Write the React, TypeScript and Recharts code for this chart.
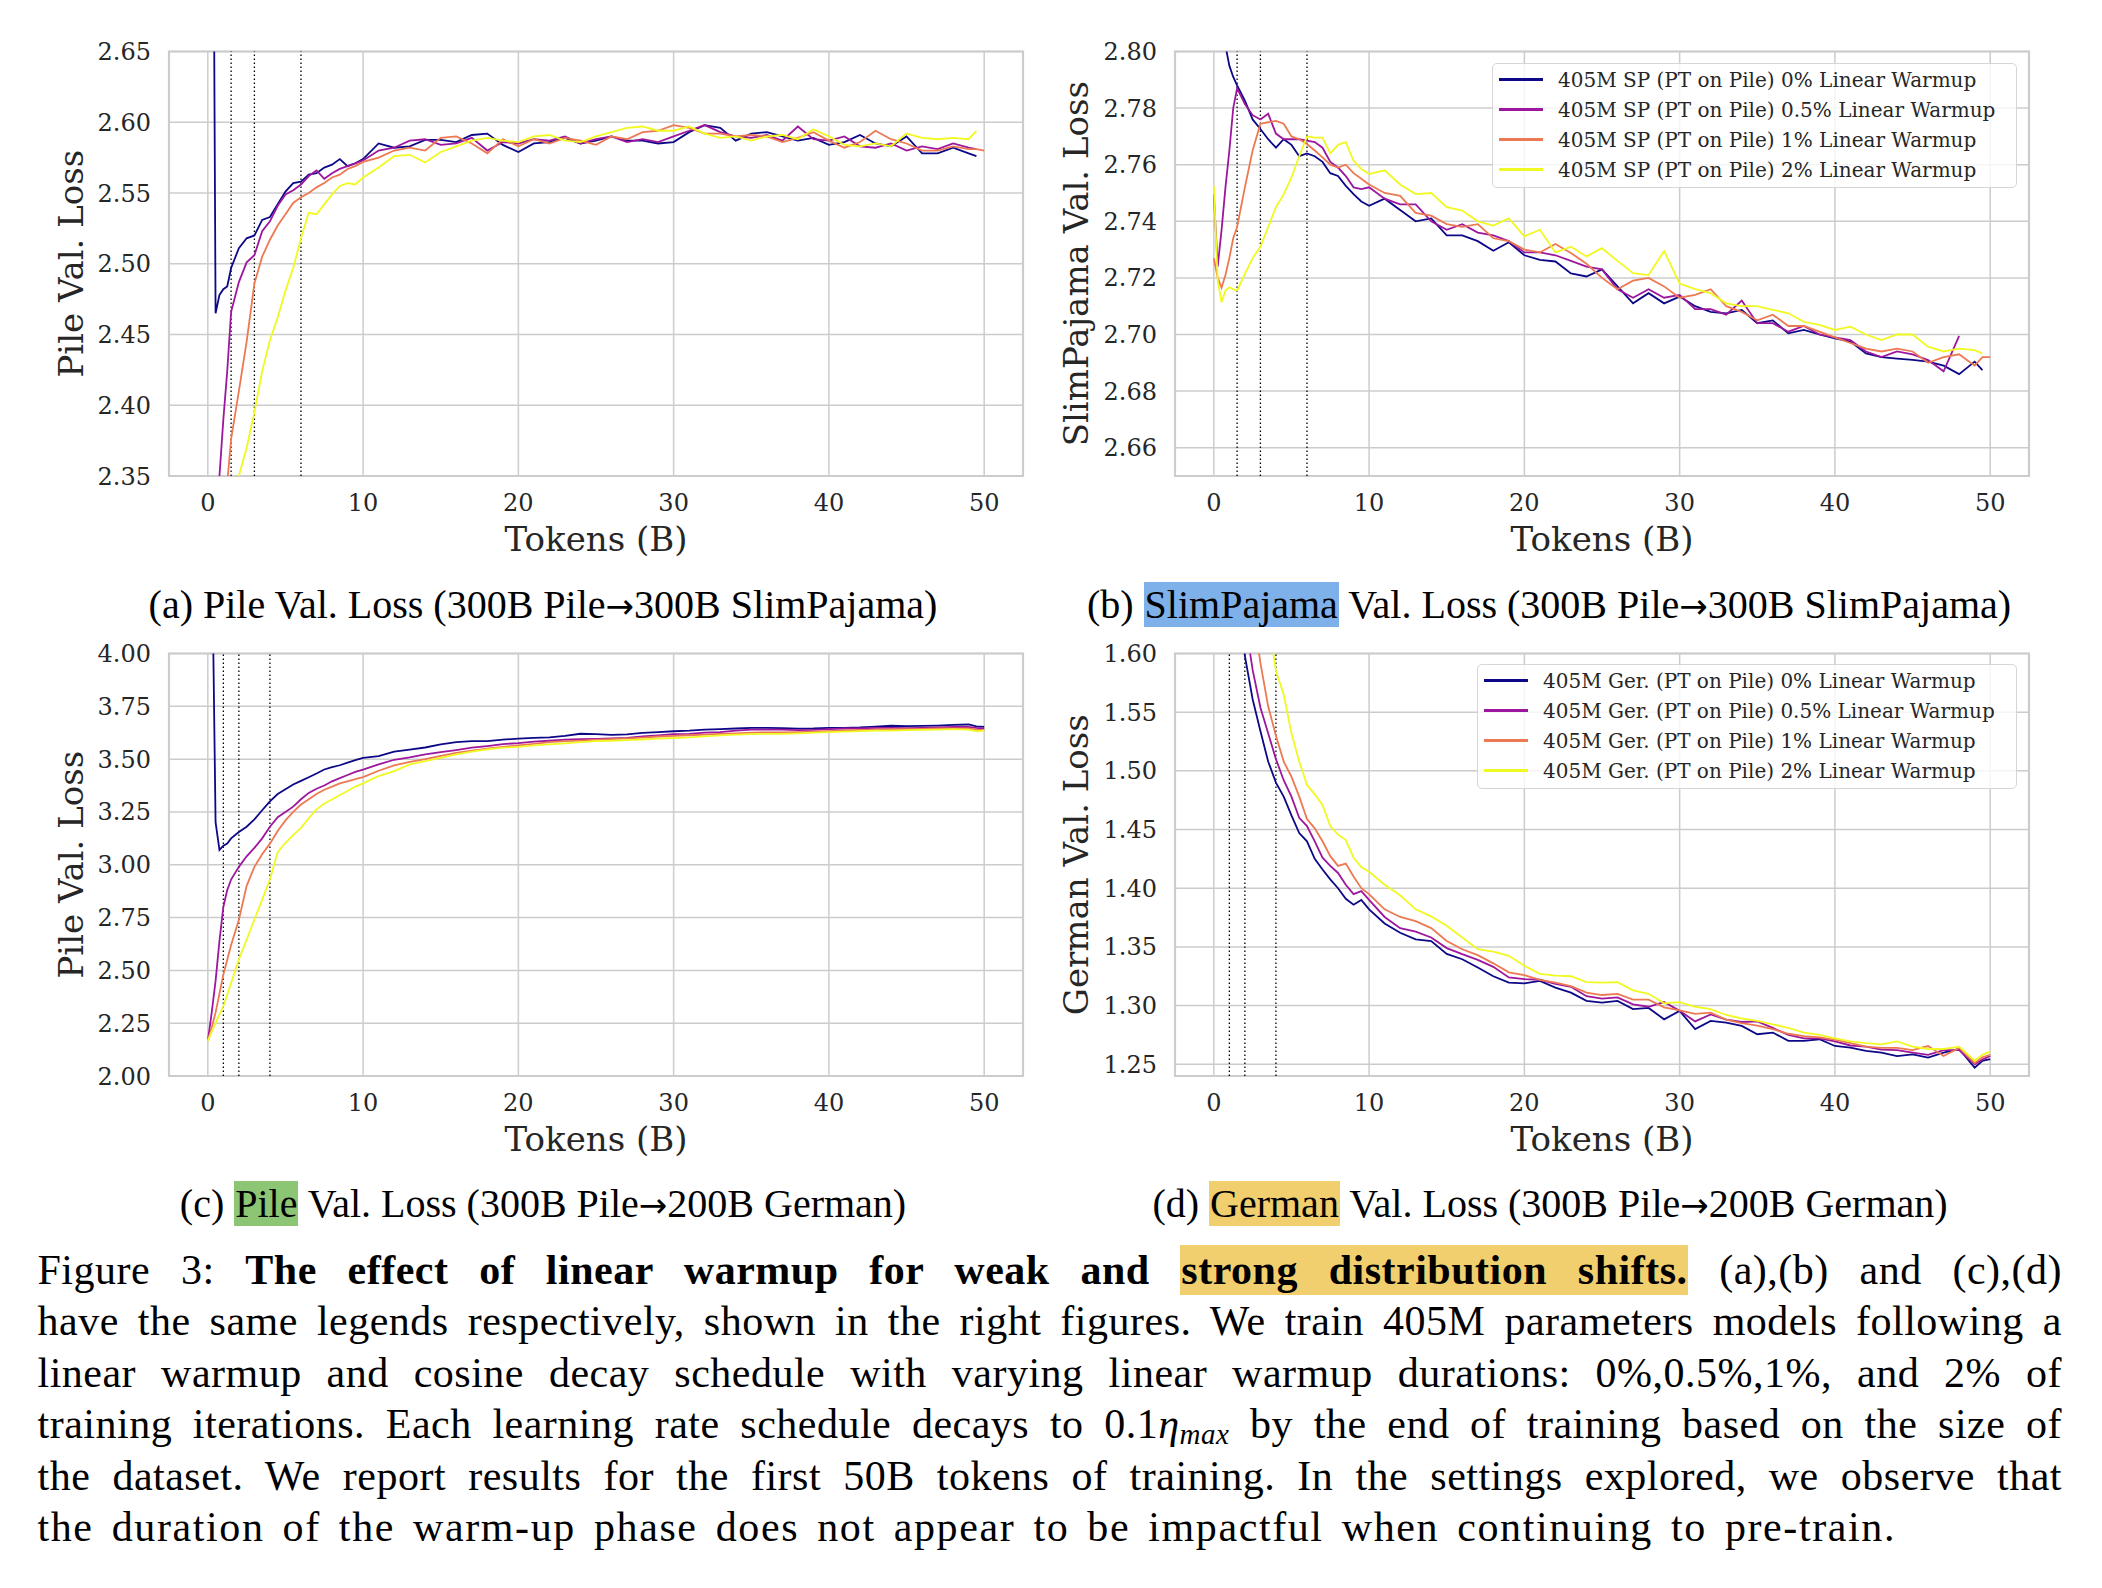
import React from 'react';
import { LineChart, Line, XAxis, YAxis, CartesianGrid, ReferenceLine, ReferenceArea, Legend } from 'recharts';

// shared token axis (B)
const tokens = [
  0, 0.25, 0.5, 0.75, 1, 1.25, 1.5, 2, 2.5, 3, 3.5, 4, 4.5, 5, 5.5, 6, 6.5, 7, 7.5, 8, 8.5, 9, 9.5, 10,
  11, 12, 13, 14, 15, 16, 17, 18, 19, 20,
  21, 22, 23, 24, 25, 26, 27, 28, 29, 30,
  31, 32, 33, 34, 35, 36, 37, 38, 39, 40,
  41, 42, 43, 44, 45, 46, 47, 48, 49,
  49.5, 50,
];

// (a) Pile val loss, 300B Pile -> 300B SlimPajama
const pileSP_w0 = [
  null, 3.0, 2.465, 2.478, 2.482, 2.484, 2.497, 2.511, 2.518, 2.52, 2.531, 2.533, 2.542, 2.551, 2.557, 2.558, 2.563, 2.564, 2.568, 2.57, 2.574, 2.569, 2.571, 2.574,
  2.585, 2.582, 2.583, 2.5875, 2.5875, 2.586, 2.591, 2.592, 2.584, 2.579,
  2.585, 2.586, 2.589, 2.585, 2.587, 2.59, 2.587, 2.587, 2.585, 2.586,
  2.593, 2.598, 2.596, 2.587, 2.592, 2.593, 2.59, 2.587, 2.589, 2.584,
  2.586, 2.591, 2.585, 2.583, 2.59, 2.578, 2.578, 2.582, 2.578,
  2.576, null,
];
const pileSP_w05 = [
  2.2, 2.24, 2.3, 2.35, 2.39, 2.424, 2.466, 2.487, 2.501, 2.506, 2.523, 2.53, 2.541, 2.549, 2.552, 2.556, 2.562, 2.566, 2.56, 2.564, 2.567, 2.569, 2.571, 2.573,
  2.58, 2.582, 2.587, 2.588, 2.584, 2.585, 2.589, 2.58, 2.586, 2.585,
  2.588, 2.587, 2.59, 2.585, 2.588, 2.59, 2.586, 2.588, 2.586, 2.59,
  2.594, 2.598, 2.593, 2.59, 2.589, 2.591, 2.587, 2.597, 2.588, 2.587,
  2.59, 2.583, 2.582, 2.585, 2.58, 2.583, 2.581, 2.585, 2.582,
  2.581, null,
];
const pileSP_w1 = [
  2.17, 2.2, 2.23, 2.27, 2.31, 2.345, 2.376, 2.41, 2.445, 2.486, 2.505, 2.517, 2.527, 2.535, 2.543, 2.547, 2.55, 2.554, 2.557, 2.561, 2.563, 2.567, 2.569, 2.572,
  2.575, 2.58, 2.582, 2.58, 2.589, 2.59, 2.585, 2.578, 2.588, 2.583,
  2.588, 2.585, 2.589, 2.587, 2.584, 2.59, 2.588, 2.593, 2.594, 2.598,
  2.596, 2.592, 2.592, 2.59, 2.591, 2.59, 2.586, 2.589, 2.593, 2.587,
  2.582, 2.586, 2.594, 2.588, 2.585, 2.58, 2.58, 2.583, 2.581,
  2.581, 2.58,
];
const pileSP_w2 = [
  2.15, 2.17, 2.19, 2.21, 2.24, 2.27, 2.29, 2.35, 2.37, 2.395, 2.424, 2.446, 2.462, 2.481, 2.497, 2.518, 2.536, 2.535, 2.542, 2.549, 2.555, 2.557, 2.556, 2.561,
  2.568, 2.576, 2.577, 2.5715, 2.579, 2.583, 2.587, 2.589, 2.587, 2.586,
  2.59, 2.591, 2.587, 2.586, 2.59, 2.593, 2.596, 2.597, 2.594, 2.594,
  2.597, 2.592, 2.589, 2.59, 2.587, 2.59, 2.591, 2.588, 2.595, 2.59,
  2.584, 2.583, 2.585, 2.583, 2.592, 2.589, 2.588, 2.589, 2.588,
  2.594, null,
];

// (b) SlimPajama val loss
const spSP_w0 = [
  null, 2.84, 2.815, 2.802, 2.795, 2.791, 2.788, 2.7826, 2.776, 2.7726, 2.769, 2.766, 2.769, 2.767, 2.763, 2.764, 2.763, 2.761, 2.757, 2.756, 2.7525, 2.7496, 2.747, 2.7455,
  2.748, 2.744, 2.74, 2.741, 2.735, 2.735, 2.733, 2.7296, 2.7326, 2.728,
  2.7264, 2.7258, 2.7216, 2.7205, 2.723, 2.717, 2.711, 2.7146, 2.711, 2.7134,
  2.71, 2.708, 2.7075, 2.7087, 2.704, 2.705, 2.7004, 2.7016, 2.7, 2.6986,
  2.6975, 2.6933, 2.692, 2.6915, 2.691, 2.6904, 2.689, 2.686, 2.6904,
  2.6874, null,
];
const spSP_w05 = [
  2.7496, 2.724, 2.737, 2.752, 2.765, 2.78, 2.787, 2.7814, 2.7775, 2.776, 2.778, 2.771, 2.769, 2.769, 2.769, 2.7685, 2.768, 2.766, 2.761, 2.759, 2.756, 2.752, 2.7514, 2.752,
  2.748, 2.746, 2.746, 2.74, 2.737, 2.739, 2.736, 2.735, 2.733, 2.729,
  2.729, 2.728, 2.726, 2.724, 2.723, 2.716, 2.713, 2.716, 2.713, 2.714,
  2.709, 2.709, 2.707, 2.712, 2.704, 2.704, 2.701, 2.703, 2.7, 2.699,
  2.698, 2.694, 2.692, 2.694, 2.693, 2.691, 2.687, 2.6995, null,
  null, null,
];
const spSP_w1 = [
  2.727, 2.72, 2.7165, 2.721, 2.727, 2.734, 2.738, 2.752, 2.765, 2.7745, 2.775, 2.7755, 2.7745, 2.77, 2.769, 2.7673, 2.765, 2.7626, 2.76, 2.759, 2.76, 2.757, 2.755, 2.753,
  2.75, 2.749, 2.743, 2.742, 2.739, 2.738, 2.739, 2.734, 2.733, 2.73,
  2.729, 2.732, 2.7288, 2.725, 2.72, 2.716, 2.719, 2.72, 2.717, 2.713,
  2.714, 2.716, 2.71, 2.708, 2.705, 2.707, 2.703, 2.703, 2.701, 2.699,
  2.697, 2.695, 2.694, 2.695, 2.694, 2.69, 2.692, 2.693, 2.689,
  2.692, 2.692,
];
const spSP_w2 = [
  2.7526, 2.719, 2.7114, 2.7155, 2.7167, 2.716, 2.7155, 2.7214, 2.727, 2.731, 2.738, 2.745, 2.7495, 2.7555, 2.763, 2.77, 2.7696, 2.7696, 2.764, 2.767, 2.768, 2.7614, 2.7585, 2.7567,
  2.758, 2.753, 2.7496, 2.75, 2.745, 2.7438, 2.74, 2.7385, 2.741, 2.7347,
  2.737, 2.729, 2.731, 2.7276, 2.7305, 2.726, 2.7217, 2.721, 2.7295, 2.718,
  2.716, 2.7146, 2.711, 2.71, 2.71, 2.7087, 2.7075, 2.7045, 2.7034, 2.7016,
  2.7028, 2.7, 2.698, 2.7, 2.7, 2.6957, 2.694, 2.695, 2.6945,
  2.6933, null,
];

// (c) Pile val loss, 300B Pile -> 200B German
const pileGer_w0 = [
  null, 4.6, 3.2, 3.07, 3.09, 3.1, 3.125, 3.155, 3.18, 3.215, 3.258, 3.3, 3.335, 3.357, 3.38, 3.397, 3.414, 3.432, 3.451, 3.462, 3.471, 3.483, 3.495, 3.506,
  3.514, 3.535, 3.545, 3.555, 3.57, 3.58, 3.585, 3.585, 3.592, 3.597,
  3.601, 3.603, 3.61, 3.62, 3.618, 3.615, 3.617, 3.624, 3.628, 3.632,
  3.635, 3.64, 3.642, 3.645, 3.648, 3.648, 3.647, 3.644, 3.645, 3.648,
  3.648, 3.65, 3.654, 3.658, 3.656, 3.657, 3.659, 3.662, 3.664,
  3.655, 3.653,
];
const pileGer_w05 = [
  2.166, 2.3, 2.45, 2.64, 2.8, 2.88, 2.93, 2.99, 3.04, 3.08, 3.125, 3.18, 3.225, 3.25, 3.275, 3.31, 3.34, 3.36, 3.375, 3.395, 3.41, 3.425, 3.44, 3.45,
  3.475, 3.497, 3.508, 3.522, 3.533, 3.543, 3.554, 3.562, 3.571, 3.576,
  3.583, 3.587, 3.592, 3.594, 3.596, 3.598, 3.6, 3.607, 3.612, 3.618,
  3.62, 3.625, 3.628, 3.635, 3.64, 3.64, 3.64, 3.637, 3.638, 3.642,
  3.645, 3.646, 3.648, 3.648, 3.647, 3.648, 3.65, 3.652, 3.653,
  3.648, 3.644,
];
const pileGer_w1 = [
  2.166, 2.23, 2.3, 2.39, 2.48, 2.55, 2.62, 2.74, 2.9, 2.99, 3.05, 3.1, 3.16, 3.21, 3.25, 3.285, 3.31, 3.335, 3.355, 3.37, 3.385, 3.395, 3.405, 3.415,
  3.445, 3.47, 3.487, 3.5, 3.515, 3.53, 3.54, 3.55, 3.558, 3.565,
  3.572, 3.58, 3.585, 3.588, 3.592, 3.595, 3.598, 3.602, 3.607, 3.61,
  3.613, 3.616, 3.62, 3.622, 3.625, 3.627, 3.627, 3.628, 3.63, 3.633,
  3.636, 3.638, 3.64, 3.642, 3.642, 3.643, 3.645, 3.646, 3.645,
  3.64, 3.637,
];
const pileGer_w2 = [
  2.166, 2.21, 2.25, 2.29, 2.33, 2.385, 2.44, 2.552, 2.645, 2.741, 2.835, 2.93, 3.06, 3.104, 3.14, 3.175, 3.22, 3.262, 3.29, 3.309, 3.33, 3.349, 3.37, 3.385,
  3.42, 3.443, 3.475, 3.49, 3.506, 3.522, 3.536, 3.546, 3.554, 3.558,
  3.565, 3.57, 3.575, 3.58, 3.585, 3.587, 3.59, 3.593, 3.597, 3.6,
  3.603, 3.608, 3.612, 3.616, 3.618, 3.62, 3.62, 3.622, 3.625, 3.628,
  3.63, 3.633, 3.635, 3.635, 3.637, 3.638, 3.64, 3.642, 3.64,
  3.632, 3.635,
];

// (d) German val loss
const gerGer_w0 = [
  null, 2.6, 2.2, 1.95, 1.82, 1.72, 1.65, 1.598, 1.561, 1.534, 1.508, 1.49, 1.478, 1.462, 1.447, 1.44, 1.425, 1.416, 1.4075, 1.4, 1.391, 1.386, 1.39, 1.382,
  1.37, 1.362, 1.3565, 1.355, 1.344, 1.3395, 1.3325, 1.325, 1.3195, 1.319,
  1.321, 1.3153, 1.311, 1.304, 1.3025, 1.304, 1.297, 1.298, 1.2883, 1.2954,
  1.28, 1.287, 1.2855, 1.2827, 1.2756, 1.277, 1.27, 1.27, 1.2713, 1.2656,
  1.2642, 1.2614, 1.26, 1.257, 1.2585, 1.2557, 1.26, 1.263, 1.247,
  1.253, 1.2543,
];
const gerGer_w05 = [
  null, 2.5, 2.2, 2.0, 1.88, 1.8, 1.73, 1.63, 1.586, 1.554, 1.532, 1.51, 1.492, 1.478, 1.46, 1.453, 1.44, 1.426, 1.419, 1.413, 1.403, 1.395, 1.3976, 1.39,
  1.3755, 1.366, 1.363, 1.358, 1.349, 1.3438, 1.339, 1.333, 1.324, 1.3225,
  1.322, 1.3185, 1.316, 1.308, 1.306, 1.307, 1.301, 1.299, 1.303, 1.2955,
  1.2865, 1.2925, 1.288, 1.286, 1.2865, 1.281, 1.275, 1.272, 1.272, 1.2695,
  1.266, 1.265, 1.2625, 1.262, 1.26, 1.258, 1.262, 1.262, 1.25,
  1.254, 1.257,
];
const gerGer_w1 = [
  null, 2.6, 2.35, 2.15, 2.0, 1.9, 1.82, 1.72, 1.64, 1.592, 1.555, 1.53, 1.508, 1.495, 1.478, 1.459, 1.451, 1.44, 1.4273, 1.419, 1.421, 1.41, 1.4, 1.395,
  1.382, 1.3755, 1.372, 1.366, 1.355, 1.348, 1.343, 1.336, 1.3283, 1.326,
  1.322, 1.3195, 1.3165, 1.311, 1.309, 1.31, 1.305, 1.305, 1.2985, 1.296,
  1.293, 1.294, 1.288, 1.285, 1.283, 1.28, 1.276, 1.274, 1.273, 1.271,
  1.268, 1.265, 1.264, 1.264, 1.262, 1.2655, 1.257, 1.264, 1.251,
  1.256, 1.258,
];
const gerGer_w2 = [
  null, 2.6, 2.3, 2.1, 2.0, 1.95, 1.9, 1.8, 1.74, 1.68, 1.63, 1.585, 1.565, 1.532, 1.508, 1.488, 1.48, 1.471, 1.453, 1.4457, 1.441, 1.426, 1.418, 1.414,
  1.403, 1.394, 1.382, 1.376, 1.368, 1.358, 1.348, 1.346, 1.3424, 1.334,
  1.327, 1.3255, 1.325, 1.32, 1.3195, 1.32, 1.313, 1.31, 1.302, 1.303,
  1.299, 1.297, 1.292, 1.289, 1.287, 1.284, 1.281, 1.277, 1.275, 1.272,
  1.2695, 1.268, 1.267, 1.2695, 1.265, 1.263, 1.263, 1.265, 1.253,
  1.258, 1.261,
];

const warmupLabels = ['0%', '0.5%', '1%', '2%'];
const xTicks = [0, 10, 20, 30, 40, 50];
const spWarmupEnds = [1.5, 3, 6]; // 300B run
const gerWarmupEnds = [1, 2, 4]; // 200B run

const COLORS = ['#0d0887', '#9c179e', '#ed7953', '#f0f921'];
const KEYS = ['w0', 'w05', 'w1', 'w2'];
const SERIF = '"DejaVu Serif", serif';
const TEX = '"Liberation Serif", serif';
const INK = '#262626';
const GRID = '#cccccc';

const buildRows = (series: (number | null)[][]) =>
  tokens.map((x, i) => ({ x, w0: series[0][i], w05: series[1][i], w1: series[2][i], w2: series[3][i] }));

const LegendBox = ({ prefix, width }: { prefix: string; width: number }) => (
  <div
    style={{
      position: 'relative',
      width,
      height: 125,
      boxSizing: 'border-box',
      border: '1.5px solid #d6d6d6',
      borderRadius: 5,
      background: 'rgba(255,255,255,0.8)',
      fontFamily: SERIF,
      fontSize: 20,
      color: INK,
    }}
  >
    {warmupLabels.map((w, i) => (
      <div
        key={w}
        style={{ position: 'absolute', left: 0, top: 1 + i * 30, height: 30, display: 'flex', alignItems: 'center', whiteSpace: 'nowrap' }}
      >
        <span style={{ display: 'inline-block', marginLeft: 6, width: 44, height: 3.5, background: COLORS[i] }} />
        <span style={{ marginLeft: 15 }}>{`${prefix} ${w} Linear Warmup`}</span>
      </div>
    ))}
  </div>
);

type PanelProps = {
  left: number;
  top: number;
  marginTop: number;
  rows: any[];
  yDomain: [number, number];
  yTicks: number[];
  yLabel: string;
  labelOffset: number;
  warmupEnds: number[];
  legend?: { prefix: string; left: number; top: number; width: number };
};

const Panel = ({ left, top, marginTop, rows, yDomain, yTicks, yLabel, labelOffset, warmupEnds, legend }: PanelProps) => (
  <div style={{ position: 'absolute', left, top }}>
    <LineChart width={1040} height={602} data={rows} margin={{ top: marginTop, right: 17, bottom: 0, left: 0 }}>
      <CartesianGrid stroke={GRID} strokeWidth={1.5} />
      <ReferenceArea
        x1={-2.5}
        x2={52.5}
        y1={yDomain[0]}
        y2={yDomain[1]}
        fill="none"
        stroke={GRID}
        strokeWidth={2.2}
        ifOverflow="visible"
      />
      <XAxis
        dataKey="x"
        type="number"
        domain={[-2.5, 52.5]}
        ticks={xTicks}
        allowDataOverflow
        tickLine={false}
        axisLine={false}
        tickMargin={12}
        height={126}
        tick={{ fontFamily: SERIF, fontSize: 24, fill: INK }}
        label={{ value: 'Tokens (B)', position: 'center', fontFamily: SERIF, fontSize: 34, fill: INK }}
      />
      <YAxis
        type="number"
        domain={yDomain}
        ticks={yTicks}
        allowDataOverflow
        tickLine={false}
        axisLine={false}
        tickMargin={12}
        width={169}
        tickFormatter={(v: number) => v.toFixed(2)}
        tick={{ fontFamily: SERIF, fontSize: 24, fill: INK }}
        label={{
          value: yLabel,
          angle: -90,
          position: 'insideLeft',
          offset: labelOffset,
          fontFamily: SERIF,
          fontSize: 34,
          fill: INK,
          style: { textAnchor: 'middle' },
        }}
      />
      {warmupEnds.map((w) => (
        <ReferenceLine key={w} x={w} stroke="#000" strokeWidth={1.3} strokeDasharray="1.5 2.5" />
      ))}
      {KEYS.map((k, i) => (
        <Line
          key={k}
          type="linear"
          dataKey={k}
          stroke={COLORS[i]}
          strokeWidth={1.8}
          dot={false}
          activeDot={false}
          isAnimationActive={false}
        />
      ))}
      {legend && (
        <Legend
          layout="vertical"
          align="center"
          verticalAlign="middle"
          wrapperStyle={{ left: legend.left, top: legend.top, width: legend.width }}
          content={() => <LegendBox prefix={legend.prefix} width={legend.width} />}
        />
      )}
    </LineChart>
  </div>
);

const subCap: React.CSSProperties = {
  position: 'absolute',
  width: 1000,
  height: 46,
  lineHeight: '46px',
  textAlign: 'center',
  fontFamily: TEX,
  fontSize: 40,
  color: '#000',
  whiteSpace: 'nowrap',
};
const capLine: React.CSSProperties = {
  height: 51.4,
  lineHeight: '51.4px',
  textAlign: 'justify',
  textAlignLast: 'justify',
  letterSpacing: 0.5,
};
const hl = (bg: string, pad = 0): React.CSSProperties => ({ background: bg, padding: `${pad}px 1px` });
const Arrow = () => <span style={{ fontFamily: '"DejaVu Sans", sans-serif', fontSize: 34 }}>→</span>;

export default function App() {
  return (
    <div style={{ position: 'absolute', left: 0, top: 0, width: 2102, height: 1588, background: '#fff', overflow: 'hidden' }}>
      <Panel
        left={0}
        top={0}
        marginTop={51.5}
        rows={buildRows([pileSP_w0, pileSP_w05, pileSP_w1, pileSP_w2])}
        yDomain={[2.35, 2.65]}
        yTicks={[2.35, 2.4, 2.45, 2.5, 2.55, 2.6, 2.65]}
        yLabel="Pile Val. Loss"
        labelOffset={71}
        warmupEnds={spWarmupEnds}
      />
      <Panel
        left={1006}
        top={0}
        marginTop={51.5}
        rows={buildRows([spSP_w0, spSP_w05, spSP_w1, spSP_w2])}
        yDomain={[2.65, 2.8]}
        yTicks={[2.66, 2.68, 2.7, 2.72, 2.74, 2.76, 2.78, 2.8]}
        yLabel="SlimPajama Val. Loss"
        labelOffset={70}
        warmupEnds={spWarmupEnds}
        legend={{ prefix: '405M SP (PT on Pile)', left: 486, top: 62.5, width: 525 }}
      />
      <Panel
        left={0}
        top={600}
        marginTop={53.5}
        rows={buildRows([pileGer_w0, pileGer_w05, pileGer_w1, pileGer_w2])}
        yDomain={[2.0, 4.0]}
        yTicks={[2.0, 2.25, 2.5, 2.75, 3.0, 3.25, 3.5, 3.75, 4.0]}
        yLabel="Pile Val. Loss"
        labelOffset={71}
        warmupEnds={gerWarmupEnds}
      />
      <Panel
        left={1006}
        top={600}
        marginTop={53.5}
        rows={buildRows([gerGer_w0, gerGer_w05, gerGer_w1, gerGer_w2])}
        yDomain={[1.24, 1.6]}
        yTicks={[1.25, 1.3, 1.35, 1.4, 1.45, 1.5, 1.55, 1.6]}
        yLabel="German Val. Loss"
        labelOffset={70}
        warmupEnds={gerWarmupEnds}
        legend={{ prefix: '405M Ger. (PT on Pile)', left: 471, top: 63.7, width: 540 }}
      />

      <div style={{ ...subCap, left: 43, top: 582 }}>
        (a) Pile Val. Loss (300B Pile<Arrow />300B SlimPajama)
      </div>
      <div style={{ ...subCap, left: 1049, top: 582 }}>
        (b) <span style={hl('#7eb0ea')}>SlimPajama</span> Val. Loss (300B Pile<Arrow />300B SlimPajama)
      </div>
      <div style={{ ...subCap, left: 43, top: 1181 }}>
        (c) <span style={hl('#8cc573')}>Pile</span> Val. Loss (300B Pile<Arrow />200B German)
      </div>
      <div style={{ ...subCap, left: 1050, top: 1181 }}>
        (d) <span style={hl('#f2cf6e')}>German</span> Val. Loss (300B Pile<Arrow />200B German)
      </div>

      <div style={{ position: 'absolute', left: 37.5, top: 1245, width: 2024.5, fontFamily: TEX, fontSize: 42, color: '#000' }}>
        <div style={capLine}>
          Figure 3: <b>The effect of linear warmup for weak and <span style={hl('#f2cf6e', 2)}>strong distribution shifts.</span></b> (a),(b) and (c),(d)
        </div>
        <div style={capLine}>have the same legends respectively, shown in the right figures. We train 405M parameters models following a</div>
        <div style={capLine}>linear warmup and cosine decay schedule with varying linear warmup durations: 0%,0.5%,1%, and 2% of</div>
        <div style={capLine}>
          training iterations. Each learning rate schedule decays to 0.1<i>η</i>
          <span style={{ fontSize: 29, fontStyle: 'italic', position: 'relative', top: 6 }}>max</span> by the end of training based on the size of
        </div>
        <div style={capLine}>the dataset. We report results for the first 50B tokens of training. In the settings explored, we observe that</div>
        <div style={{ ...capLine, textAlign: 'left', textAlignLast: 'left', letterSpacing: 1.6, wordSpacing: 6 }}>
          the duration of the warm-up phase does not appear to be impactful when continuing to pre-train.
        </div>
      </div>
    </div>
  );
}
